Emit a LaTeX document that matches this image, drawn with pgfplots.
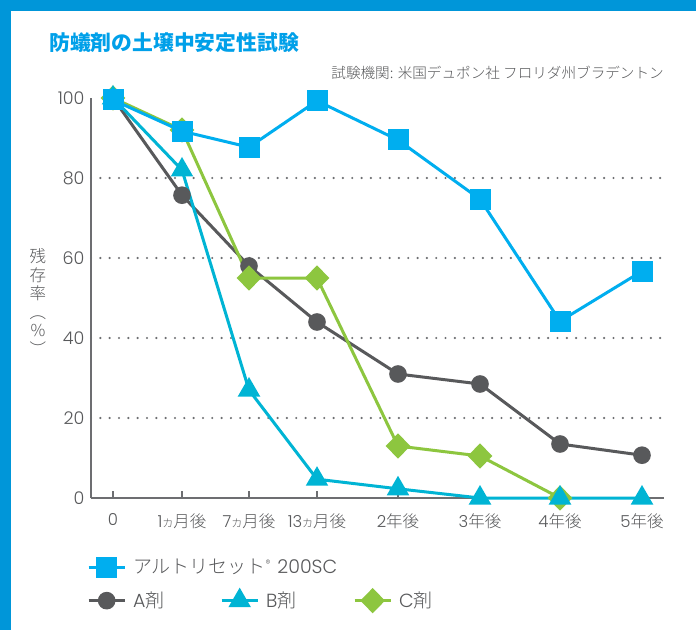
\documentclass[border=0pt]{standalone}
\usepackage{pgfplots}
\pgfplotsset{compat=1.18}
\usepackage{fontspec}
\IfFontExistsTF{Noto Sans CJK JP Light}{\setmainfont{Noto Sans CJK JP Light}}{\setmainfont{Noto Sans CJK JP}}
\newfontfamily\titlefont{Noto Sans CJK JP}
\IfFontExistsTF{Poppins Light}{\newfontfamily\lat{Poppins Light}}{\newfontfamily\lat{Poppins}}
\definecolor{framec}{HTML}{0096D9}
\definecolor{titlec}{HTML}{00A0E9}
\definecolor{textc}{HTML}{58595B}
\definecolor{axc}{HTML}{6D6E71}
\definecolor{altc}{HTML}{00AEEF}
\definecolor{ac}{HTML}{58595B}
\definecolor{bc}{HTML}{00B4D4}
\definecolor{cc}{HTML}{8DC63F}
\pgfplotsset{
  altstyle/.style={color=altc, line width=3pt, mark=square*, mark size=9pt, mark options={solid}},
  astyle/.style={color=ac, line width=3pt, mark=*, mark size=7.3pt, mark options={solid}},
  bstyle/.style={color=bc, line width=3pt, mark=triangle*, mark size=10pt, mark options={solid}},
  cstyle/.style={color=cc, line width=3pt, mark=diamond*, mark size=10.5pt, mark options={solid, xscale=1.3}},
}
\newcommand{\ka}{{\fontsize{11}{11}\selectfont カ}}
\begin{document}
\begin{tikzpicture}[x=1pt,y=1pt]
\useasboundingbox (0,0) rectangle (696,630);
\fill[white] (0,0) rectangle (696,630);
\fill[framec] (0,619) rectangle (696,630);
\fill[framec] (0,0) rectangle (11,630);
\node[anchor=west, text=titlec, font=\titlefont\bfseries\fontsize{20.8}{20.8}\selectfont, inner sep=0] at (49,587) {防蟻剤の土壌中安定性試験};
\node[anchor=east, text=textc, font=\fontsize{14.6}{14.6}\selectfont, inner sep=0] at (664,557) {試験機関: 米国デュポン社 フロリダ州ブラデントン};
\begin{axis}[
  at={(91pt,132pt)}, anchor=south west, scale only axis, width=573pt, height=400pt,
  xmin=91, xmax=664, ymin=0, ymax=100,
  clip=false,
  axis x line*=bottom, axis y line*=left,
  axis line style={draw=axc, line width=1.5pt, -},
  xtick={113,182,249,317,398,480,560,642},
  xticklabels={{\lat 0},{{\lat 1}\ka 月後},{{\lat 7}\ka 月後},{{\lat 13}\ka 月後},{{\lat 2}年後},{{\lat 3}年後},{{\lat 4}年後},{{\lat 5}年後}},
  tick align=inside, major tick length=7pt,
  xtick style={draw=axc, line width=1.3pt},
  ytick={0,20,40,60,80,100},
  ytick style={draw=none},
  extra y ticks={20,40,60,80},
  extra y tick labels={},
  extra y tick style={ymajorgrids=true, ytick style={draw=none}},
  major grid style={draw=axc, line width=2.4pt, line cap=round, dash pattern=on 0pt off 9.33pt},
  /pgf/number format/assume math mode=true,
  yticklabel style={font=\lat\fontsize{17.5}{17.5}\selectfont, text=textc, xshift=-3pt},
  xticklabel style={font=\fontsize{16.5}{16.5}\selectfont, text=textc, yshift=-12pt},
  ylabel={残\\存\\率\\︵\\\%\\︶},
  ylabel style={rotate=-90, at={(axis description cs:-0.0925,0.49)}, anchor=center, align=center, font=\fontsize{16.5}{18.5}\selectfont, text=textc},
  legend columns=3,
  legend image code/.code={\draw[mark repeat=2,mark phase=2] plot coordinates {(0pt,0pt)(18pt,0pt)(36pt,0pt)};},
  legend style={at={(axis description cs:-0.007,-0.147)}, anchor=north west, draw=none, fill=none, inner sep=0pt,
    font=\fontsize{19}{19}\selectfont, text=textc, row sep=13pt,
    /tikz/every even column/.append style={column sep=0pt}},
]
\addplot[astyle, forget plot] coordinates {(113,100)(182,75.7)(249,58)(317,44)(398,31)(480,28.5)(560,13.5)(642,10.7)};
\addplot[cstyle, forget plot] coordinates {(113,100)(182,92)(249,55)(317,55)(398,13)(480,10.5)(560,0)};
\addplot[bstyle, forget plot] coordinates {(113,100)(182,82)(249,27)(317,4.7)(398,2.3)(480,0)(560,0)(642,0)};
\addplot[altstyle, forget plot] coordinates {(113,99.5)(182,91.7)(249,87.7)(317,99.3)(398,89.5)(480,74.7)(560,44.2)(642,56.7)};
\addlegendimage{altstyle}
\addlegendentry{\makebox[90pt][l]{\hspace{5pt}\rlap{アルトリセット\raisebox{6.5pt}{\fontsize{9.5}{9.5}\selectfont ®}\hspace{3pt} {\lat 200SC}}}}
\addlegendimage{empty legend}
\addlegendentry{}
\addlegendimage{empty legend}
\addlegendentry{}
\addlegendimage{astyle}
\addlegendentry{\makebox[90pt][l]{\hspace{5pt}{\lat A}剤}}
\addlegendimage{bstyle}
\addlegendentry{\makebox[90pt][l]{\hspace{5pt}{\lat B}剤}}
\addlegendimage{cstyle}
\addlegendentry{\makebox[90pt][l]{\hspace{5pt}{\lat C}剤}}
\end{axis}
\end{tikzpicture}
\end{document}
